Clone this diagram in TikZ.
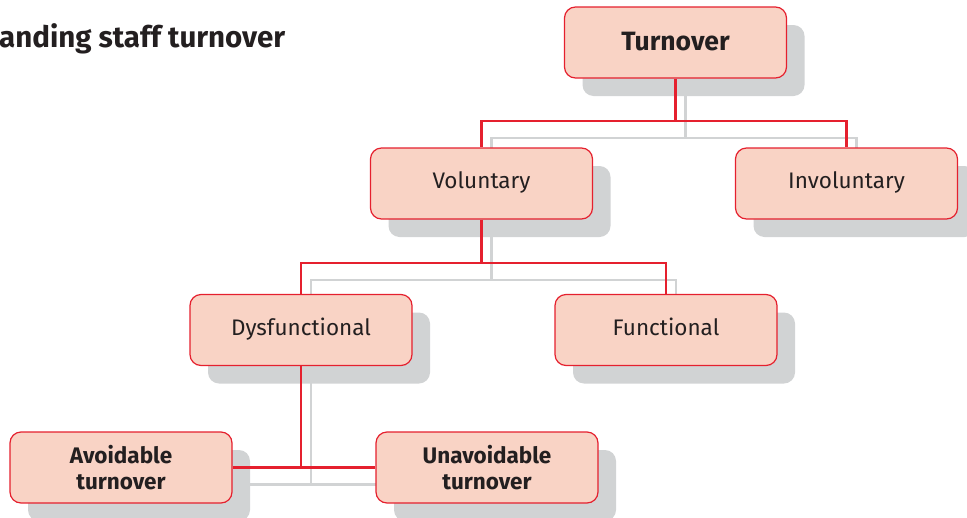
\documentclass[tikz,border=0pt]{standalone}
\usepackage{fontspec}
\setmainfont{Fira Sans}
\usetikzlibrary{shadows,calc}
\pgfdeclarelayer{background}
\pgfsetlayers{background,main}
\definecolor{boxfill}{HTML}{F9D3C5}
\definecolor{boxred}{HTML}{E5202E}
\definecolor{shadowgray}{HTML}{D1D3D4}
\definecolor{txt}{HTML}{231F20}
\tikzset{
  box/.style={draw=boxred, line width=1.2pt, fill=boxfill, rounded corners=11pt,
    minimum width=222pt, minimum height=71pt, inner sep=0pt, align=center,
    text=txt, font=\fontsize{22.5}{26}\selectfont,
    drop shadow={shadow xshift=18pt, shadow yshift=-18pt, fill=shadowgray, opacity=1, draw=none}},
  onebox/.style={box, text height=16pt, text depth=6pt},
  topbox/.style={box, text height=20pt, text depth=5pt, font=\fontsize{26.5}{30}\selectfont\bfseries},
  boldbox/.style={box, font=\fontsize{22.5}{25.5}\selectfont\bfseries},
  redline/.style={draw=boxred, line width=2.6pt},
  grayline/.style={draw=shadowgray, line width=2.2pt},
}
\begin{document}
\begin{tikzpicture}[x=1pt,y=-1pt]
\useasboundingbox (0,0) rectangle (967,517);
\clip (0,0) rectangle (967,517);
\node[anchor=base west, inner sep=0pt, text=txt, font=\fontsize{29.5}{34}\selectfont\bfseries] (title) at (-1,47) {anding staff turnover};
\node[topbox] (T) at (675.5,42.5) {Turnover};
\node[onebox] (V) at (481.5,183.5) {Voluntary};
\node[onebox] (I) at (846.5,183.5) {Involuntary};
\node[onebox] (D) at (301,330) {Dysfunctional};
\node[onebox] (F) at (666,330) {Functional};
\node[boldbox] (A) at (121,467.5) {Avoidable\\turnover};
\node[boldbox] (U) at (487,467.5) {Unavoidable\\turnover};
\coordinate (t1) at (675.5,121);
\coordinate (v1) at (481.5,263);
\begin{pgfonlayer}{background}
\begin{scope}[transform canvas={shift={(10pt,-17pt)}}]
\draw[grayline] (T.south) -- (t1) -| (V.north);
\draw[grayline] (t1) -| (I.north);
\draw[grayline] (V.south) -- (v1) -| (D.north);
\draw[grayline] (v1) -| (F.north);
\draw[grayline] (D.south) -- (D.south |- A.east);
\draw[grayline] (A.east) -- (U.west);
\end{scope}
\end{pgfonlayer}
\draw[redline] (T.south) -- (t1) -| (V.north);
\draw[redline] (t1) -| (I.north);
\draw[redline] (V.south) -- (v1) -| (D.north);
\draw[redline] (v1) -| (F.north);
\draw[redline] (D.south) -- (D.south |- A.east);
\draw[redline] (A.east) -- (U.west);
\end{tikzpicture}
\end{document}
